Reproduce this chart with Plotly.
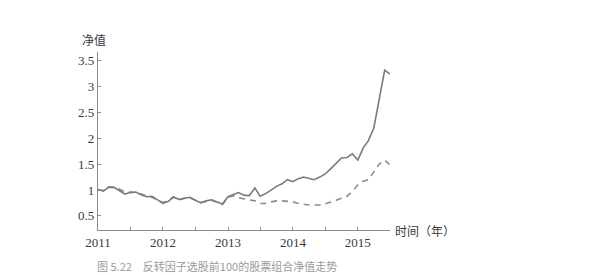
import plotly.graph_objects as go
import pandas as pd

dates = pd.date_range("2011-01-01", periods=55, freq="MS").strftime("%Y-%m-%d").tolist()

strategy = [1.01, 0.98, 1.05, 1.05, 0.99, 0.92, 0.95, 0.96, 0.91, 0.87,
            0.88, 0.81, 0.74, 0.78, 0.86, 0.82, 0.84, 0.86, 0.80, 0.75,
            0.79, 0.81, 0.77, 0.73, 0.87, 0.92, 0.95, 0.90, 0.89, 1.04,
            0.88, 0.93, 1.00, 1.07, 1.12, 1.20, 1.16, 1.22, 1.25, 1.22,
            1.20, 1.25, 1.31, 1.41, 1.52, 1.62, 1.63, 1.70, 1.58, 1.82,
            1.95, 2.20, 2.75, 3.32, 3.24]

benchmark = [1.00, 0.99, 1.06, 1.05, 1.02, 0.96, 0.96, 0.95, 0.92, 0.89,
             0.86, 0.80, 0.76, 0.80, 0.87, 0.81, 0.84, 0.85, 0.80, 0.76,
             0.78, 0.80, 0.76, 0.72, 0.86, 0.89, 0.85, 0.83, 0.82, 0.79,
             0.74, 0.74, 0.77, 0.79, 0.79, 0.78, 0.77, 0.74, 0.72, 0.71,
             0.71, 0.71, 0.73, 0.76, 0.80, 0.84, 0.88, 0.97, 1.10, 1.17,
             1.20, 1.35, 1.50, 1.58, 1.48]

y_ticks = [0.5, 1, 1.5, 2, 2.5, 3, 3.5]
y_labels = ["0.5", "1", "1.5", "2", "2.5", "3", "3.5"]
x_ticks = ["2011-01-01", "2012-01-01", "2013-01-01", "2014-01-01", "2015-01-01"]
x_labels = ["2011", "2012", "2013", "2014", "2015"]

line_col = "#7a7a7a"
axis_col = "#8a8a8a"
text_col = "#3a3a3a"
num_font = dict(family="Liberation Serif", size=13, color=text_col)
cjk_font = dict(family="Noto Sans CJK SC", size=12, color=text_col)

fig = go.Figure()
fig.add_trace(go.Scatter(x=dates, y=benchmark, mode="lines",
                         line=dict(color="#8c8c8c", width=1.6, dash="6px,5px"),
                         cliponaxis=False, showlegend=False))
fig.add_trace(go.Scatter(x=dates, y=strategy, mode="lines",
                         line=dict(color=line_col, width=1.6),
                         cliponaxis=False, showlegend=False))

fig.update_layout(
    width=600, height=275,
    margin=dict(l=98, r=210, t=52, b=45),
    paper_bgcolor="white", plot_bgcolor="white",
    xaxis=dict(type="date", range=["2011-01-01", "2015-07-01"],
               tickvals=x_ticks, ticktext=x_labels,
               showgrid=False, zeroline=False,
               showline=True, linecolor=axis_col, linewidth=1.3,
               ticks="inside", ticklen=3, tickcolor=axis_col,
               tickfont=num_font,
               minor=dict(tickvals=["2011-07-01", "2012-07-01", "2013-07-01",
                                    "2014-07-01", "2015-07-01"],
                          ticks="inside", ticklen=3, tickcolor=axis_col)),
    yaxis=dict(range=[0.226, 3.67], tickvals=y_ticks, ticktext=y_labels,
               showgrid=False, zeroline=False,
               showline=True, linecolor=axis_col, linewidth=1.3,
               ticks="inside", ticklen=3, tickcolor=axis_col,
               tickfont=num_font),
    annotations=[
        dict(text="净值", xref="paper", yref="paper", x=-0.015, y=1.01,
             xanchor="center", yanchor="bottom", showarrow=False, font=cjk_font),
        dict(text="时间（年）", xref="paper", yref="paper", x=1.01, y=0.0,
             xanchor="left", yanchor="middle", showarrow=False, font=cjk_font),
        dict(text="图 5.22　反转因子选股前100的股票组合净值走势", xref="paper", yref="paper",
             x=-0.01, y=-0.145, xanchor="left", yanchor="top", showarrow=False,
             font=dict(family="Noto Sans CJK SC", size=11, color="#9a9a9a")),
    ],
)

fig.write_html("out.html")
